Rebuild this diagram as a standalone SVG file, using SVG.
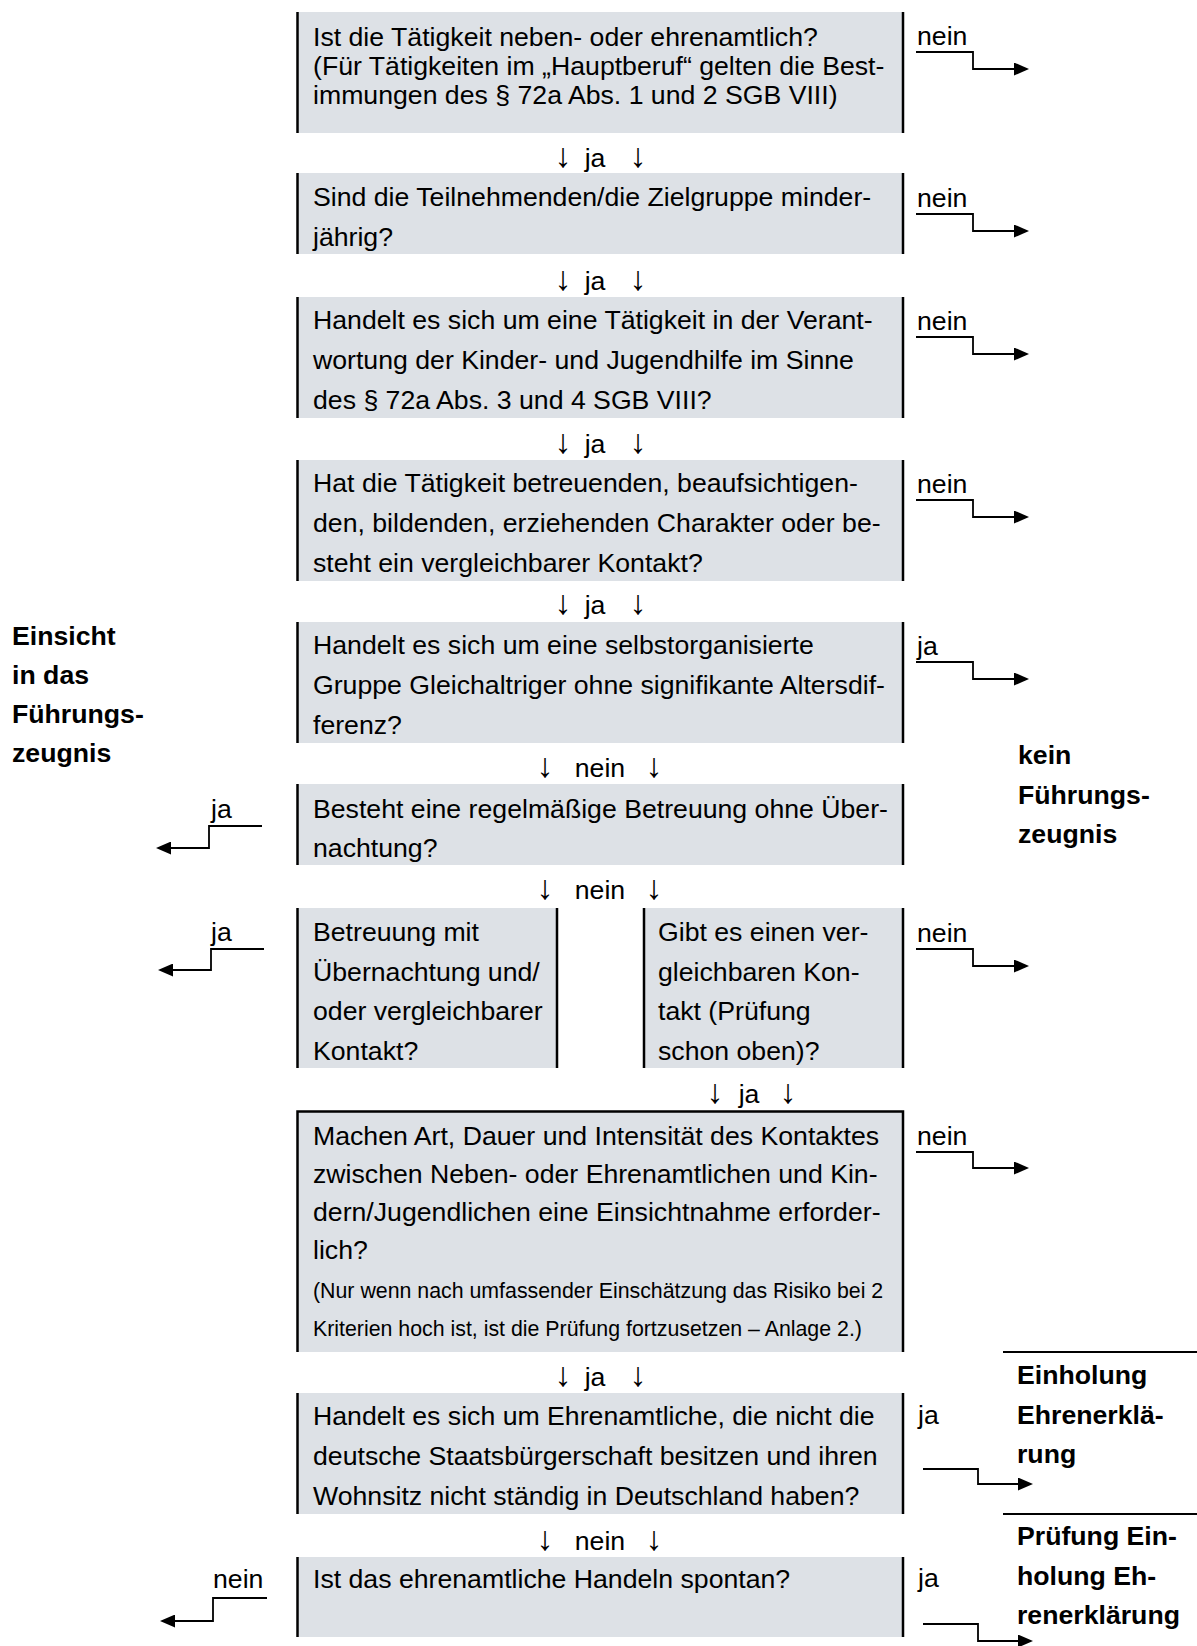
<svg xmlns="http://www.w3.org/2000/svg" width="1197" height="1646" viewBox="0 0 1197 1646">
<style>
text{font-family:"Liberation Sans",Arial,sans-serif;fill:#000}
.t{font-size:26.67px}
.s{font-size:21.33px}
.b{font-size:26.67px;font-weight:bold}
.ar{font-size:26.67px;text-anchor:middle}
.ar .g{font-size:34px}
.fill{fill:#dde1e6;stroke:none}
.edge{stroke:#000;stroke-width:2.5;fill:none}
.con{stroke:#000;stroke-width:1.8;fill:none;marker-end:url(#ah)}
.rule{stroke:#000;stroke-width:2;fill:none}
</style>
<defs>
<marker id="ah" markerUnits="userSpaceOnUse" viewBox="0 0 15 13" markerWidth="15" markerHeight="13" refX="6" refY="6.5" orient="auto">
<path d="M0,0 L15,6.5 L0,13 z" fill="#000"/>
</marker>
</defs>
<rect width="1197" height="1646" fill="#fff"/>

<g id="box1">
<rect class="fill" x="297" y="12" width="606" height="121"/>
<path class="edge" d="M297.5,12V133M903,12V133"/>
<text class="t" x="313" y="46">Ist die Tätigkeit neben- oder ehrenamtlich?</text>
<text class="t" x="313" y="75">(Für Tätigkeiten im „Hauptberuf“ gelten die Best-</text>
<text class="t" x="313" y="104">immungen des § 72a Abs. 1 und 2 SGB VIII)</text>
</g>
<g id="box2">
<rect class="fill" x="297" y="173" width="606" height="81"/>
<path class="edge" d="M297.5,173V254M903,173V254"/>
<text class="t" x="313" y="206">Sind die Teilnehmenden/die Zielgruppe minder-</text>
<text class="t" x="313" y="246">jährig?</text>
</g>
<g id="box3">
<rect class="fill" x="297" y="297" width="606" height="121"/>
<path class="edge" d="M297.5,297V418M903,297V418"/>
<text class="t" x="313" y="329">Handelt es sich um eine Tätigkeit in der Verant-</text>
<text class="t" x="313" y="369">wortung der Kinder- und Jugendhilfe im Sinne</text>
<text class="t" x="313" y="409">des § 72a Abs. 3 und 4 SGB VIII?</text>
</g>
<g id="box4">
<rect class="fill" x="297" y="460" width="606" height="121"/>
<path class="edge" d="M297.5,460V581M903,460V581"/>
<text class="t" x="313" y="492">Hat die Tätigkeit betreuenden, beaufsichtigen-</text>
<text class="t" x="313" y="532">den, bildenden, erziehenden Charakter oder be-</text>
<text class="t" x="313" y="572">steht ein vergleichbarer Kontakt?</text>
</g>
<g id="box5">
<rect class="fill" x="297" y="622" width="606" height="121"/>
<path class="edge" d="M297.5,622V743M903,622V743"/>
<text class="t" x="313" y="654">Handelt es sich um eine selbstorganisierte</text>
<text class="t" x="313" y="694">Gruppe Gleichaltriger ohne signifikante Altersdif-</text>
<text class="t" x="313" y="734">ferenz?</text>
</g>
<g id="box6">
<rect class="fill" x="297" y="784" width="606" height="81"/>
<path class="edge" d="M297.5,784V865M903,784V865"/>
<text class="t" x="313" y="818">Besteht eine regelmäßige Betreuung ohne Über-</text>
<text class="t" x="313" y="857">nachtung?</text>
</g>
<g id="box7a">
<rect class="fill" x="297" y="908" width="260" height="160"/>
<path class="edge" d="M297.5,908V1068M557,908V1068"/>
<text class="t" x="313" y="941">Betreuung mit</text>
<text class="t" x="313" y="981">Übernachtung und/</text>
<text class="t" x="313" y="1020">oder vergleichbarer</text>
<text class="t" x="313" y="1060">Kontakt?</text>
</g>
<g id="box7b">
<rect class="fill" x="644" y="908" width="259" height="160"/>
<path class="edge" d="M644,908V1068M903,908V1068"/>
<text class="t" x="658" y="941">Gibt es einen ver-</text>
<text class="t" x="658" y="981">gleichbaren Kon-</text>
<text class="t" x="658" y="1020">takt (Prüfung</text>
<text class="t" x="658" y="1060">schon oben)?</text>
</g>
<g id="box8">
<rect class="fill" x="297" y="1111" width="606" height="241"/>
<path class="edge" d="M297.5,1352V1111.5H903V1352"/>
<text class="t" x="313" y="1145">Machen Art, Dauer und Intensität des Kontaktes</text>
<text class="t" x="313" y="1183">zwischen Neben- oder Ehrenamtlichen und Kin-</text>
<text class="t" x="313" y="1221">dern/Jugendlichen eine Einsichtnahme erforder-</text>
<text class="t" x="313" y="1259">lich?</text>
<text class="s" x="313" y="1298">(Nur wenn nach umfassender Einschätzung das Risiko bei 2</text>
<text class="s" x="313" y="1336">Kriterien hoch ist, ist die Prüfung fortzusetzen – Anlage 2.)</text>
</g>
<g id="box9">
<rect class="fill" x="297" y="1393" width="606" height="121"/>
<path class="edge" d="M297.5,1393V1514M903,1393V1514"/>
<text class="t" x="313" y="1425">Handelt es sich um Ehrenamtliche, die nicht die</text>
<text class="t" x="313" y="1465">deutsche Staatsbürgerschaft besitzen und ihren</text>
<text class="t" x="313" y="1505">Wohnsitz nicht ständig in Deutschland haben?</text>
</g>
<g id="box10">
<rect class="fill" x="297" y="1557" width="606" height="80"/>
<path class="edge" d="M297.5,1557V1637M903,1557V1637"/>
<text class="t" x="313" y="1588">Ist das ehrenamtliche Handeln spontan?</text>
</g>

<g id="result-einsicht">
<text class="b" x="12" y="645">Einsicht</text>
<text class="b" x="12" y="684">in das</text>
<text class="b" x="12" y="723">Führungs-</text>
<text class="b" x="12" y="762">zeugnis</text>
</g>
<g id="result-kein">
<text class="b" x="1018" y="764">kein</text>
<text class="b" x="1018" y="804">Führungs-</text>
<text class="b" x="1018" y="843">zeugnis</text>
</g>
<g id="result-einholung">
<path class="rule" d="M1003,1352H1197"/>
<text class="b" x="1017" y="1384">Einholung</text>
<text class="b" x="1017" y="1424">Ehrenerklä-</text>
<text class="b" x="1017" y="1463">rung</text>
</g>
<g id="result-pruefung">
<path class="rule" d="M1003,1514H1197"/>
<text class="b" x="1017" y="1545">Prüfung Ein-</text>
<text class="b" x="1017" y="1585">holung Eh-</text>
<text class="b" x="1017" y="1624">renerklärung</text>
</g>

<g id="connectors">
<text class="ar" y="167"><tspan class="g" x="563">↓</tspan><tspan x="595">ja</tspan><tspan class="g" x="638">↓</tspan></text>
<text class="ar" y="290"><tspan class="g" x="563">↓</tspan><tspan x="595">ja</tspan><tspan class="g" x="638">↓</tspan></text>
<text class="ar" y="453"><tspan class="g" x="563">↓</tspan><tspan x="595">ja</tspan><tspan class="g" x="638">↓</tspan></text>
<text class="ar" y="614"><tspan class="g" x="563">↓</tspan><tspan x="595">ja</tspan><tspan class="g" x="638">↓</tspan></text>
<text class="ar" y="777"><tspan class="g" x="545">↓</tspan><tspan x="600">nein</tspan><tspan class="g" x="654">↓</tspan></text>
<text class="ar" y="899"><tspan class="g" x="545">↓</tspan><tspan x="600">nein</tspan><tspan class="g" x="654">↓</tspan></text>
<text class="ar" y="1103"><tspan class="g" x="715">↓</tspan><tspan x="749">ja</tspan><tspan class="g" x="788">↓</tspan></text>
<text class="ar" y="1386"><tspan class="g" x="563">↓</tspan><tspan x="595">ja</tspan><tspan class="g" x="638">↓</tspan></text>
<text class="ar" y="1550"><tspan class="g" x="545">↓</tspan><tspan x="600">nein</tspan><tspan class="g" x="654">↓</tspan></text>

<text class="t" x="917" y="45">nein</text>
<path class="con" d="M916,52H973V69H1020"/>
<text class="t" x="917" y="207">nein</text>
<path class="con" d="M916,214H973V231H1020"/>
<text class="t" x="917" y="330">nein</text>
<path class="con" d="M916,337H973V354H1020"/>
<text class="t" x="917" y="493">nein</text>
<path class="con" d="M916,500H973V517H1020"/>
<text class="t" x="917" y="655">ja</text>
<path class="con" d="M916,662H973V679H1020"/>
<text class="t" x="917" y="942">nein</text>
<path class="con" d="M916,949H973V966H1020"/>
<text class="t" x="917" y="1145">nein</text>
<path class="con" d="M916,1152H973V1168H1020"/>
<text class="t" x="918" y="1424">ja</text>
<path class="con" d="M923,1469H978V1484H1024"/>
<text class="t" x="918" y="1587">ja</text>
<path class="con" d="M923,1624H978V1641H1024"/>

<text class="t" x="211" y="818">ja</text>
<path class="con" d="M262,826H209V848H165"/>
<text class="t" x="211" y="941">ja</text>
<path class="con" d="M264,949H211V970H167"/>
<text class="t" x="213" y="1588">nein</text>
<path class="con" d="M267,1598H213V1621H169"/>
</g>
</svg>
